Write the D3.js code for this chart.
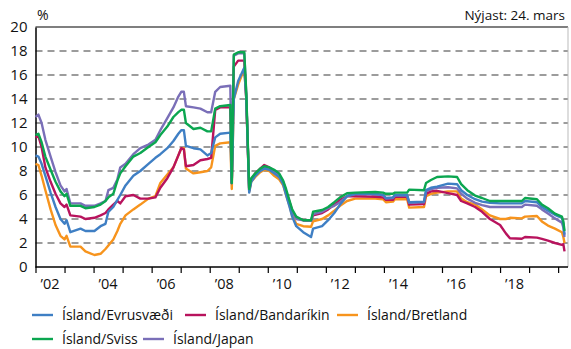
<!DOCTYPE html>
<html><head><meta charset="utf-8">
<script src="https://cdn.jsdelivr.net/npm/d3@7"></script>
<style>
html,body{margin:0;padding:0;background:#fff;}
svg{display:block;font-family:"Open Sans",sans-serif;}
</style></head>
<body><svg id="c" width="571" height="349"></svg>
<script>
// decimal years
const dates = [2002.00,2002.10,2002.21,2002.34,2002.52,2002.69,2002.86,2003.00,2003.07,2003.20,2003.55,2003.72,
2004.03,2004.24,2004.41,2004.51,2004.68,2004.82,2004.92,2005.10,2005.37,2005.61,2005.89,2006.13,2006.30,2006.54,
2006.75,2006.92,2007.02,2007.11,2007.18,2007.44,2007.68,2007.92,2008.05,2008.19,2008.36,2008.71,2008.76,2008.83,
2008.98,2009.19,2009.26,2009.36,2009.43,2009.57,2009.74,2009.88,2010.05,2010.22,2010.39,2010.53,2010.63,2010.74,
2010.84,2010.98,2011.22,2011.49,2011.56,2011.87,2012.08,2012.29,2012.49,2012.73,2013.01,2013.70,2013.97,2014.07,
2014.31,2014.38,2014.80,2014.87,2015.38,2015.45,2015.62,2015.83,2016.21,2016.52,2016.66,2016.87,2017.14,2017.38,
2017.65,2018.00,2018.20,2018.34,2018.75,2018.86,2019.27,2019.44,2019.65,2019.89,2020.13,2020.18,2020.22];

const evrusvaedi = [9.3,9.2,8.6,7.6,6.2,5.0,4.0,3.6,3.9,2.9,3.2,3.0,
3.0,3.4,3.6,4.6,5.0,5.6,6.0,6.8,7.6,8.0,8.6,9.1,9.4,9.9,
10.5,11.1,11.4,11.4,10.1,9.9,9.8,9.3,9.5,10.8,11.1,11.2,7.0,14.0,
15.5,16.6,14.0,6.2,7.1,7.6,8.0,8.2,8.1,7.8,7.5,6.9,6.0,5.1,
4.2,3.4,2.9,2.5,3.2,3.4,3.9,4.5,5.2,5.9,6.1,6.1,6.0,5.75,
5.8,6.0,6.0,5.4,5.45,6.4,6.6,6.7,6.95,6.9,6.4,6.0,5.65,5.45,
5.35,5.3,5.3,5.3,5.3,5.5,5.4,5.0,4.7,4.35,4.1,3.6,2.7];

const bandarikin = [10.8,10.9,10.0,8.3,7.1,6.1,5.3,5.0,5.2,4.3,4.2,4.0,
4.1,4.3,4.5,4.8,5.2,5.5,5.3,5.9,6.0,5.7,5.7,5.8,6.6,7.4,
8.3,9.3,9.9,9.8,8.4,8.5,8.9,9.0,9.1,13.1,13.3,13.3,7.0,16.7,
17.2,17.2,14.0,6.4,7.3,7.8,8.2,8.5,8.3,8.0,7.6,7.1,6.3,5.5,
4.7,4.1,3.9,3.85,4.3,4.5,4.8,5.2,5.6,5.9,5.9,5.85,5.8,5.6,
5.6,5.85,5.85,5.2,5.25,6.1,6.3,6.35,6.15,6.0,5.5,5.3,5.0,4.6,
4.0,3.5,2.8,2.4,2.35,2.5,2.45,2.35,2.2,2.0,1.85,1.9,1.3];

const bretland = [8.6,8.5,7.6,6.4,4.8,3.5,2.6,2.3,2.6,1.7,1.7,1.3,
1.0,1.1,1.5,1.8,2.3,3.0,3.6,4.3,4.8,5.2,5.7,5.9,7.0,7.7,
8.3,9.3,9.9,9.9,8.2,7.8,7.9,8.0,8.3,10.1,10.3,10.4,6.5,14.0,
15.2,16.5,14.0,6.3,7.1,7.5,7.9,8.1,8.0,7.6,7.3,6.8,6.0,5.2,
4.3,3.6,3.4,3.35,3.8,4.0,4.3,4.7,5.1,5.5,5.7,5.7,5.65,5.4,
5.45,5.65,5.65,4.95,5.0,5.9,6.1,6.2,6.3,6.3,5.7,5.4,5.2,4.8,
4.3,4.0,4.0,4.1,4.05,4.2,4.25,3.8,3.45,3.2,2.9,2.5,2.0];

const sviss = [11.0,11.1,10.4,9.2,8.1,7.1,6.3,5.9,6.1,5.1,5.1,4.9,
5.0,5.2,5.5,5.8,6.1,7.2,7.8,8.4,9.2,9.5,10.0,10.4,11.0,11.7,
12.5,12.9,13.1,13.1,12.0,11.5,11.6,11.3,11.3,13.2,13.4,13.5,7.0,17.7,
17.9,17.9,14.5,6.5,7.4,7.8,8.2,8.4,8.3,8.1,7.8,7.2,6.5,5.6,
4.8,4.2,3.9,3.9,4.6,4.75,5.0,5.4,5.8,6.15,6.2,6.25,6.2,6.1,
6.1,6.2,6.2,6.45,6.4,7.0,7.25,7.5,7.55,7.5,6.9,6.4,5.95,5.75,
5.5,5.5,5.5,5.5,5.5,5.75,5.65,5.2,4.9,4.45,4.2,3.8,3.0];

const japan = [12.5,12.7,12.0,10.6,9.2,7.9,6.8,6.3,6.5,5.3,5.3,5.1,
5.1,5.3,5.5,6.4,6.6,7.3,8.3,8.6,9.4,9.9,10.2,10.6,11.4,12.4,
13.3,14.2,14.6,14.6,13.4,13.3,13.2,12.9,12.9,14.6,15.0,15.1,7.0,17.6,
17.8,17.8,14.3,6.4,7.3,7.7,8.1,8.3,8.2,7.9,7.6,7.0,6.2,5.4,
4.6,4.0,3.9,3.85,4.4,4.6,4.9,5.1,5.4,5.9,6.05,6.05,6.0,5.7,
5.75,5.95,5.95,5.35,5.4,6.3,6.5,6.6,6.65,6.55,6.1,5.7,5.35,5.15,
5.0,5.0,5.0,5.0,5.0,5.2,5.1,4.8,4.45,4.05,3.7,3.3,2.5];

const seriesNames = ["Ísland/Evrusvæði","Ísland/Bandaríkin","Ísland/Bretland","Ísland/Sviss","Ísland/Japan"];
const seriesColors = ["#3f7fc4","#b8135d","#f7941d","#0ba650","#7a6fb8"];
const yTicks = [0,2,4,6,8,10,12,14,16,18,20];
const yearTicks = d3.range(2002, 2021);
const xLabels = ["’02","’04","’06","’08","’10","’12","’14","’16","’18"];
const xLabelYears = [2002,2004,2006,2008,2010,2012,2014,2016,2018];

const svg = d3.select("#c");
const L = 35.5, R = 568, T = 27, B = 267;
const x = d3.scaleLinear().domain([2002, 2020.34]).range([L, R]);
const y = d3.scaleLinear().domain([0, 20]).range([B, T]);

// grid
svg.append("g").selectAll("line").data(yTicks.filter(v => v > 0 && v < 20)).join("line")
  .attr("x1", L).attr("x2", R).attr("y1", d => y(d)).attr("y2", d => y(d))
  .attr("stroke", "#3a3a3a").attr("stroke-width", 1.1).attr("stroke-dasharray", "7,5");

// frame top and right
svg.append("line").attr("x1", L).attr("x2", R).attr("y1", T).attr("y2", T).attr("stroke", "#000").attr("stroke-width", 1.2);
svg.append("line").attr("x1", R).attr("x2", R).attr("y1", T).attr("y2", B).attr("stroke", "#bbb").attr("stroke-width", 1);

// y axis
const ya = svg.append("g").attr("transform", `translate(${L},0)`)
  .call(d3.axisLeft(y).tickValues(yTicks).tickSize(0).tickPadding(8));
ya.select(".domain").attr("stroke", "#000").attr("stroke-width", 1.5);
ya.selectAll("text").attr("font-size", 15).attr("fill", "#111").attr("font-family", '"Open Sans",sans-serif');

// x axis
const xa = svg.append("g").attr("transform", `translate(0,${B})`)
  .call(d3.axisBottom(x).tickValues(yearTicks).tickSize(6).tickFormat(""));
xa.select(".domain").attr("stroke", "#000").attr("stroke-width", 1.5).attr("d", `M${L},0H${R}`);
xa.selectAll(".tick line").attr("stroke", "#000").attr("stroke-width", 1.2);

svg.append("g").selectAll("text").data(xLabels).join("text")
  .attr("x", (d, i) => x(xLabelYears[i] + 0.5)).attr("y", 289)
  .attr("text-anchor", "middle").attr("font-size", 14.5).attr("fill", "#111").text(d => d);

// lines
const all = [evrusvaedi, bandarikin, bretland, sviss, japan];
const line = d3.line().x((d, i) => x(dates[i])).y(d => y(d));
const order = [2, 1, 4, 0, 3];
order.forEach(k => {
  svg.append("path").attr("d", line(all[k])).attr("fill", "none")
    .attr("stroke", seriesColors[k]).attr("stroke-width", 2.4).attr("stroke-linejoin", "round");
});

// texts
svg.append("text").attr("x", 37).attr("y", 20).attr("font-size", 14).attr("fill", "#111").text("%");
svg.append("text").attr("x", 565).attr("y", 20).attr("text-anchor", "end").attr("font-size", 13.5).attr("fill", "#111").text("Nýjast: 24. mars");

// legend
const legPos = [[32, 315], [185, 315], [337, 315], [32, 339], [143, 339]];
const lg = svg.append("g").selectAll("g").data(seriesNames).join("g")
  .attr("transform", (d, i) => `translate(${legPos[i][0]},${legPos[i][1]})`);
lg.append("line").attr("x1", 0).attr("x2", 21).attr("y1", 0).attr("y2", 0)
  .attr("stroke", (d, i) => seriesColors[i]).attr("stroke-width", 2.4);
lg.append("text").attr("x", 30).attr("y", 5).attr("font-size", 14).attr("fill", "#111").text(d => d);
</script></body></html>
